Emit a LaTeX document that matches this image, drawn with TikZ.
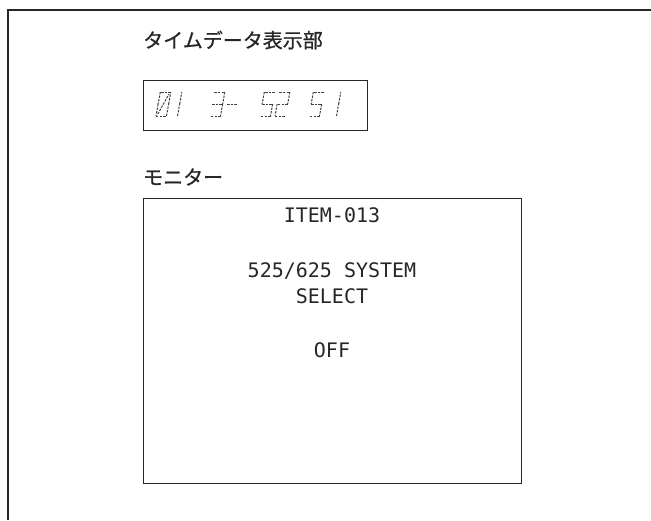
\documentclass[tikz,border=0pt]{standalone}
\usepackage{fontspec}
\newfontfamily\jpFont[FakeBold=0.9]{Noto Sans CJK JP}
\newfontfamily\lcdFont{DejaVu Sans Mono}
\tikzset{
  frameLine/.style={line width=1.3pt, draw=black!85},
  boxLine/.style={draw=black!85, line width=1.2pt, inner sep=0pt},
  lcdSeg/.style={line width=1pt, draw=black!75, dash pattern=on 2.4pt off 1.2pt},
  jpLabel/.style={anchor=west, inner sep=0pt, text=black!85, font=\jpFont\fontsize{20}{24}\selectfont},
  monText/.style={anchor=base, inner sep=0pt, text=black!85, font=\lcdFont\fontsize{20}{24}\selectfont}
}
% segment lists (corner pairs) for the time data digits
\newcommand{\tdZero}{bl/br,br/mr,mr/tr,tr/tl,tl/ml,ml/bl,sa/sb}
\newcommand{\tdOne}{br/mr,mr/tr}
\newcommand{\tdTwo}{tl/tr,tr/mr,mr/ml,ml/bl,bl/br}
\newcommand{\tdThree}{tl/tr,tr/mr,mr/br,br/bl,ml/mr}
\newcommand{\tdFive}{tr/tl,tl/ml,ml/mr,mr/br,br/bl}
\newcommand{\tdDash}{ml/mr}
\newcommand{\tdDigit}[3]{%
  \begin{scope}[shift={(#2,116)}, xslant=0.18]
    \coordinate (#1bl) at (0,0);   \coordinate (#1br) at (10.5,0);
    \coordinate (#1ml) at (0,-12); \coordinate (#1mr) at (10.5,-12);
    \coordinate (#1tl) at (0,-24); \coordinate (#1tr) at (10.5,-24);
    \coordinate (#1sa) at (1.5,-2); \coordinate (#1sb) at (9,-22);
    \foreach \p/\q in #3 {\draw[lcdSeg] (#1\p) -- (#1\q);}
  \end{scope}}

\begin{document}
\begin{tikzpicture}[x=1pt,y=-1pt]
\useasboundingbox (0,0) rectangle (651,520);
\coordinate (frameEnd) at (651,10);
\coordinate (frameCorner) at (8,10);
\coordinate (frameFoot) at (8,520);
\draw[frameLine] (frameEnd) -- (frameCorner) -- (frameFoot);

% time data display
\node[jpLabel] (timeTitle) at (143,40) {タイムデータ表示部};
\node[boxLine, anchor=north west, minimum width=224pt, minimum height=50pt] (timeBox) at (143,80) {};
\tdDigit{dA}{156}{\tdZero}
\tdDigit{dB}{167}{\tdOne}
\tdDigit{dC}{210}{\tdThree}
\tdDigit{dD}{225}{\tdDash}
\tdDigit{dE}{260}{\tdFive}
\tdDigit{dF}{275}{\tdTwo}
\tdDigit{dG}{309}{\tdFive}
\tdDigit{dH}{326}{\tdOne}

% monitor
\node[jpLabel] (monTitle) at (143,177) {モニター};
\node[boxLine, anchor=north west, minimum width=378pt, minimum height=285pt] (monBox) at (143,198) {};
\node[monText] (itemNo) at (332,222) {ITEM-013};
\node[monText] (sysLine) at (332,277) {525/625 SYSTEM};
\node[monText] (selLine) at (332,303) {SELECT};
\node[monText] (offLine) at (332,357) {OFF};
\end{tikzpicture}
\end{document}
